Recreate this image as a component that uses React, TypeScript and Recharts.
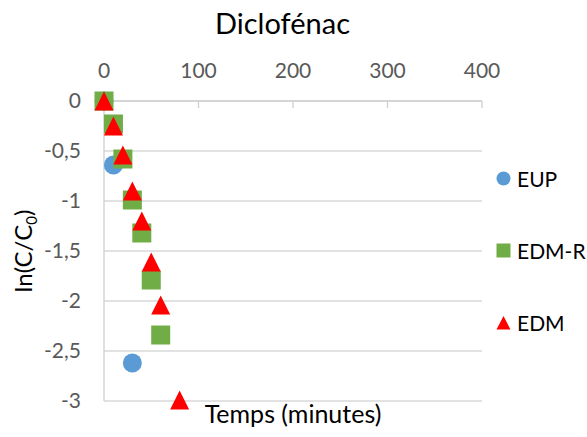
import React from 'react';
import { ScatterChart, Scatter, XAxis, YAxis, CartesianGrid } from 'recharts';

// temps (minutes) / ln(C/C0)
const eupTime = [0, 10, 30];
const eupLn = [0, -0.64, -2.62];

const edmrTime = [0, 10, 20, 30, 40, 50, 60];
const edmrLn = [0, -0.23, -0.58, -0.99, -1.32, -1.79, -2.34];

const edmTime = [0, 10, 20, 30, 40, 50, 60, 80];
const edmLn = [0, -0.25, -0.54, -0.9, -1.2, -1.61, -2.04, -2.99];

const xTicks = [0, 100, 200, 300, 400];
const yTicks = [0, -0.5, -1, -1.5, -2, -2.5, -3];

const toPoints = (t: number[], v: number[]) => t.map((x, i) => ({ x, y: v[i] }));

const FONT = 'Lato, "Open Sans", sans-serif';
const BLUE = '#5B9BD5';
const GREEN = '#70AD47';
const RED = '#FF0000';

const Circle = ({ cx, cy }: any) => <circle cx={cx} cy={cy} r={9.5} fill={BLUE} />;
const Square = ({ cx, cy }: any) => (
  <rect x={cx - 9.5} y={cy - 9.5} width={19} height={19} fill={GREEN} />
);
const Triangle = ({ cx, cy }: any) => (
  <polygon points={`${cx},${cy - 9.5} ${cx + 9.5},${cy + 9.5} ${cx - 9.5},${cy + 9.5}`} fill={RED} />
);

const legendItems = [
  { name: 'EUP', kind: 'circle', color: BLUE },
  { name: 'EDM-R', kind: 'square', color: GREEN },
  { name: 'EDM', kind: 'triangle', color: RED },
];

const LegendMarker = ({ kind, color }: { kind: string; color: string }) => (
  <svg width={15} height={15} style={{ display: 'block' }}>
    {kind === 'circle' && <circle cx={7.5} cy={7.5} r={7} fill={color} />}
    {kind === 'square' && <rect x={0.5} y={0.5} width={14} height={14} fill={color} />}
    {kind === 'triangle' && <polygon points="7.5,1 14.5,14.5 0.5,14.5" fill={color} />}
  </svg>
);

const YLabel = () => (
  <text
    transform="translate(32, 251) rotate(-90)"
    textAnchor="middle"
    fontFamily={FONT}
    fontSize={24}
    fill="#000"
  >
    ln(C/C<tspan fontSize={15} dy={5}>0</tspan>
    <tspan dy={-5}>)</tspan>
  </text>
);

const fmt = (v: number) => String(v).replace('.', ',');

export default function App() {
  return (
    <div style={{ position: 'absolute', left: 0, top: 0, width: 587, height: 437, background: '#fff' }}>
      <div
        style={{
          position: 'absolute',
          left: 0,
          width: 565,
          top: 5,
          textAlign: 'center',
          fontFamily: FONT,
          fontSize: 29,
          color: '#000',
        }}
      >
        Diclofénac
      </div>
      <ScatterChart width={587} height={437} margin={{ top: 71, right: 105, bottom: 36, left: 0 }}>
        <CartesianGrid horizontal vertical={false} stroke="#D9D9D9" strokeWidth={1.3} />
        <XAxis
          type="number"
          dataKey="x"
          orientation="top"
          height={30}
          domain={[0, 400]}
          ticks={xTicks}
          tickSize={-7}
          tickMargin={30}
          axisLine={{ stroke: '#D0D0D0', strokeWidth: 1.3 }}
          tickLine={{ stroke: '#D0D0D0', strokeWidth: 1.3 }}
          tick={{ fill: '#595959', fontSize: 21, fontFamily: FONT }}
        />
        <YAxis
          type="number"
          dataKey="y"
          width={104}
          domain={[-3, 0]}
          ticks={yTicks}
          tickFormatter={fmt}
          tickSize={0}
          tickMargin={23}
          axisLine={{ stroke: '#D0D0D0', strokeWidth: 1.3 }}
          tickLine={false}
          tick={{ fill: '#595959', fontSize: 21, fontFamily: FONT }}
          label={{ content: () => <YLabel /> }}
        />
        <Scatter name="EUP" data={toPoints(eupTime, eupLn)} shape={Circle} isAnimationActive={false} />
        <Scatter name="EDM-R" data={toPoints(edmrTime, edmrLn)} shape={Square} isAnimationActive={false} />
        <Scatter name="EDM" data={toPoints(edmTime, edmLn)} shape={Triangle} isAnimationActive={false} />
      </ScatterChart>
      <div
        style={{
          position: 'absolute',
          left: 496,
          top: 142,
          fontFamily: FONT,
          fontSize: 21,
          color: '#000',
        }}
      >
        {legendItems.map((it) => (
          <div key={it.name} style={{ display: 'flex', alignItems: 'center', height: 72 }}>
            <LegendMarker kind={it.kind} color={it.color} />
            <span style={{ marginLeft: 6 }}>{it.name}</span>
          </div>
        ))}
      </div>
      <div
        style={{
          position: 'absolute',
          left: 173,
          width: 240,
          top: 398,
          textAlign: 'center',
          fontFamily: FONT,
          fontSize: 25,
          color: '#000',
          whiteSpace: 'nowrap',
        }}
      >
        Temps (minutes)
      </div>
    </div>
  );
}
